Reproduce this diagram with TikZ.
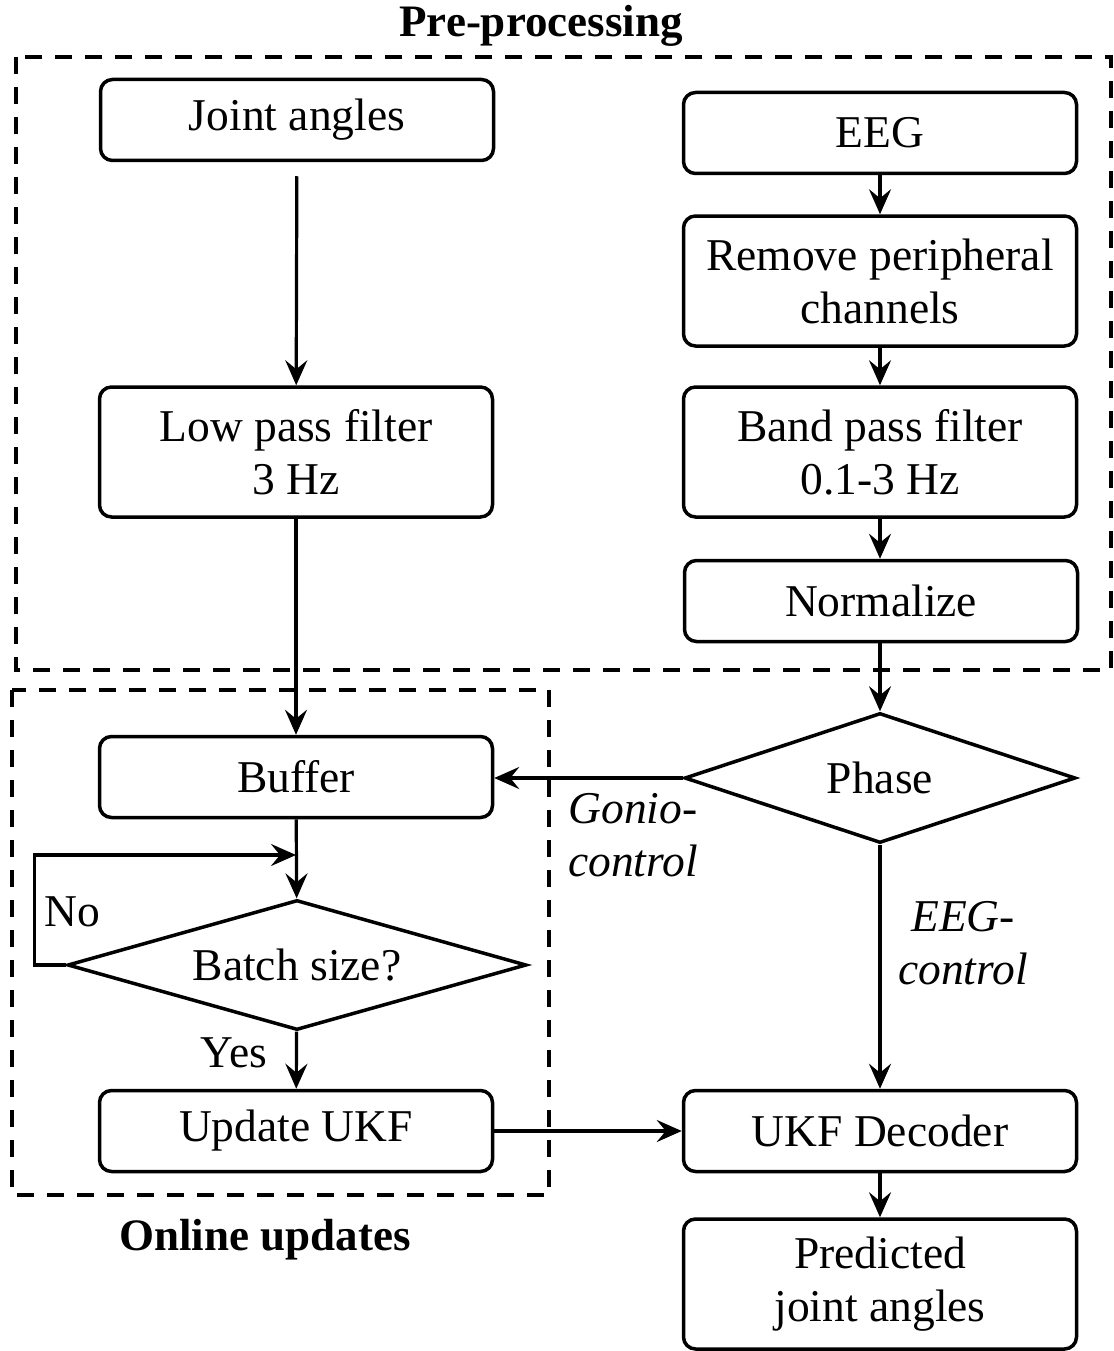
\documentclass[tikz,border=0pt]{standalone}
\usepackage{fontspec}
\setmainfont{Liberation Serif}
\usetikzlibrary{shapes.geometric,arrows.meta}
\begin{document}
\begin{tikzpicture}[x=1pt,y=-1pt,
  txt/.style={font=\fontsize{45.5}{53}\selectfont},
  proc/.style={txt, draw, line width=3.5pt, rounded corners=12pt,
    minimum width=393pt, minimum height=81pt, inner sep=0pt, align=center},
  tall/.style={minimum height=130pt},
  decide/.style={txt, draw, diamond, line width=3.5pt, inner sep=0pt,
    aspect=3.5, minimum height=130pt},
  arr/.style={line width=3.2pt, -{Stealth[length=25pt,width=22pt,inset=9pt]}},
  group/.style={draw, line width=4pt, dash pattern=on 17pt off 13pt},
  title/.style={font=\fontsize{45}{52}\selectfont\bfseries},
  note/.style={txt, font=\fontsize{45.5}{53}\selectfont\itshape, align=center}
]
\useasboundingbox (0,0) rectangle (1113,1351);

% grouping frames
\draw[group] (16,57) rectangle (1111,670);
\draw[group] (12,690) rectangle (549,1195);
\node[title] (pretitle) at (541,26) {Pre-processing};
\node[title] (ontitle) at (265,1240) {Online updates};

% left column
\node[proc] (ja) at (297,120) {Joint angles};
\node[proc, tall] (lp) at (296,452) {Low pass filter\\3 Hz};
\node[proc] (buf) at (296,777) {Buffer};
\node[decide, minimum width=459pt] (batch) at (297,965) {Batch size?};
\node[proc] (upd) at (296,1131) {Update UKF};

% right column
\node[proc] (eeg) at (880,133) {EEG};
\node[proc, tall] (rem) at (880,281) {Remove peripheral\\channels};
\node[proc, tall] (bp) at (880,452) {Band pass filter\\0.1-3 Hz};
\node[proc] (norm) at (881,601) {Normalize};
\node[decide, minimum width=391pt] (phase) at (880,778) {Phase};
\node[proc] (dec) at (880,1131) {UKF Decoder};
\node[proc, tall] (pred) at (880,1284) {Predicted\\joint angles};

% connectors
\draw[arr, shorten <=14pt] (ja) -- (lp);
\draw[arr] (lp) -- (buf);
\draw[arr] (eeg) -- (rem);
\draw[arr] (rem) -- (bp);
\draw[arr] (bp.south) -- (bp.south |- norm.north);
\draw[arr] (norm.south -| phase.north) -- (phase.north);
\draw[arr] (phase.west) -- (buf.east |- phase.west);
\draw[arr] (buf) -- (batch);
\coordinate (loopin) at (buf.south |- 0,855);
\draw[arr] (batch.west) -- ++(-31,0) |- (loopin);
\draw[arr] (batch) -- (upd);
\draw[arr] (upd) -- (dec);
\draw[arr] (phase) -- (dec);
\draw[arr] (dec) -- (pred);

% branch labels
\node[txt] (no) at (72,912) {No};
\node[txt] (yes) at (234,1053) {Yes};
\node[note] (gonio) at (633,835) {Gonio-\\control};
\node[note] (eegc) at (963,943) {EEG-\\control};
\end{tikzpicture}
\end{document}
